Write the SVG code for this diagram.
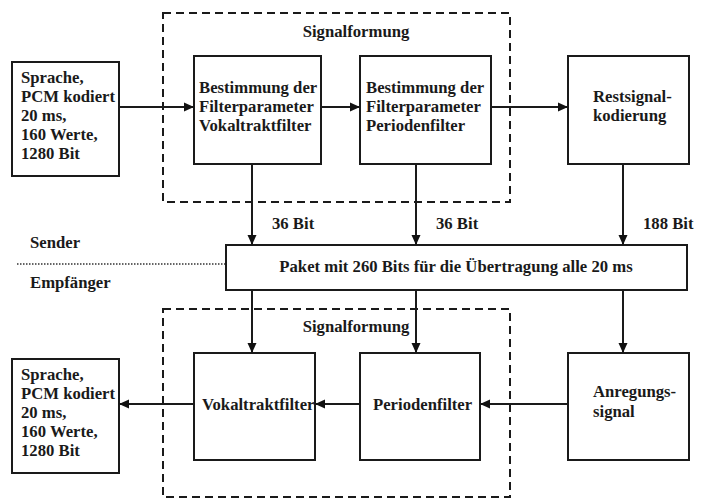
<svg xmlns="http://www.w3.org/2000/svg" width="701" height="498" viewBox="0 0 701 498">
  <defs>
    <marker id="arrow" viewBox="0 0 10 10" refX="10" refY="5" markerWidth="10" markerHeight="10" markerUnits="userSpaceOnUse" orient="auto">
      <path d="M0,0.5 L10,5 L0,9.5 Z" fill="#111"/>
    </marker>
  </defs>
  <style>
    text { font-family: "Liberation Serif", "Times New Roman", serif; font-weight: bold; font-size: 16.7px; fill: #1a1a1a; }
    .box { fill: #fff; stroke: #1a1a1a; stroke-width: 2; }
    .group { fill: none; stroke: #1a1a1a; stroke-width: 2; stroke-dasharray: 8 5; }
    .link { fill: none; stroke: #1a1a1a; stroke-width: 2; marker-end: url(#arrow); }
    .sep { fill: none; stroke: #333; stroke-width: 1.5; stroke-dasharray: 1.5 1.5; }
  </style>
  <rect width="701" height="498" fill="#fff"/>

  <!-- signal shaping groups -->
  <g id="encoder-group">
    <rect class="group" x="163" y="13" width="347" height="189"/>
    <text x="356" y="37" text-anchor="middle">Signalformung</text>
  </g>
  <g id="decoder-group">
    <rect class="group" x="163" y="309" width="347" height="188"/>
    <text x="356" y="332" text-anchor="middle">Signalformung</text>
  </g>

  <!-- transmitter / receiver boundary -->
  <g id="boundary">
    <line class="sep" x1="17" y1="264" x2="226" y2="264"/>
    <text x="30" y="248">Sender</text>
    <text x="30" y="288">Empfänger</text>
  </g>

  <!-- encoder side -->
  <g id="speech-in">
    <rect class="box" x="12" y="62" width="107" height="114"/>
    <text x="21" y="83">Sprache,</text>
    <text x="21" y="102">PCM kodiert</text>
    <text x="21" y="121">20 ms,</text>
    <text x="21" y="140">160 Werte,</text>
    <text x="21" y="159">1280 Bit</text>
  </g>
  <g id="vocal-params">
    <rect class="box" x="194" y="56" width="127" height="108"/>
    <text x="199" y="93">Bestimmung der</text>
    <text x="199" y="112">Filterparameter</text>
    <text x="199" y="131">Vokaltraktfilter</text>
  </g>
  <g id="period-params">
    <rect class="box" x="360" y="56" width="131" height="108"/>
    <text x="366" y="93">Bestimmung der</text>
    <text x="366" y="112">Filterparameter</text>
    <text x="366" y="131">Periodenfilter</text>
  </g>
  <g id="residual-coding">
    <rect class="box" x="568" y="56" width="121" height="108"/>
    <text x="593" y="102">Restsignal-</text>
    <text x="593" y="121">kodierung</text>
  </g>

  <!-- packet -->
  <g id="packet">
    <rect class="box" x="226" y="245" width="461" height="45"/>
    <text x="456" y="272" text-anchor="middle">Paket mit 260 Bits für die Übertragung alle 20 ms</text>
  </g>

  <!-- decoder side -->
  <g id="vocal-filter">
    <rect class="box" x="194" y="353" width="121" height="107"/>
    <text x="202" y="410">Vokaltraktfilter</text>
  </g>
  <g id="period-filter">
    <rect class="box" x="360" y="353" width="120" height="107"/>
    <text x="373" y="410">Periodenfilter</text>
  </g>
  <g id="excitation">
    <rect class="box" x="568" y="353" width="121" height="107"/>
    <text x="593" y="397">Anregungs-</text>
    <text x="593" y="417">signal</text>
  </g>
  <g id="speech-out">
    <rect class="box" x="12" y="359" width="107" height="114"/>
    <text x="21" y="380">Sprache,</text>
    <text x="21" y="399">PCM kodiert</text>
    <text x="21" y="418">20 ms,</text>
    <text x="21" y="437">160 Werte,</text>
    <text x="21" y="456">1280 Bit</text>
  </g>

  <!-- connectors -->
  <g id="connectors">
    <line class="link" x1="119" y1="107" x2="194" y2="107"/>
    <line class="link" x1="321" y1="107" x2="360" y2="107"/>
    <line class="link" x1="491" y1="107" x2="568" y2="107"/>

    <line class="link" x1="252" y1="164" x2="252" y2="245"/>
    <line class="link" x1="416" y1="164" x2="416" y2="245"/>
    <line class="link" x1="623" y1="164" x2="623" y2="245"/>

    <line class="link" x1="252" y1="290" x2="252" y2="353"/>
    <line class="link" x1="416" y1="290" x2="416" y2="353"/>
    <line class="link" x1="623" y1="290" x2="623" y2="353"/>

    <line class="link" x1="568" y1="404" x2="480" y2="404"/>
    <line class="link" x1="360" y1="404" x2="315" y2="404"/>
    <line class="link" x1="194" y1="404" x2="119" y2="404"/>

    <text x="272" y="229">36 Bit</text>
    <text x="436" y="229">36 Bit</text>
    <text x="643" y="229">188 Bit</text>
  </g>
</svg>
